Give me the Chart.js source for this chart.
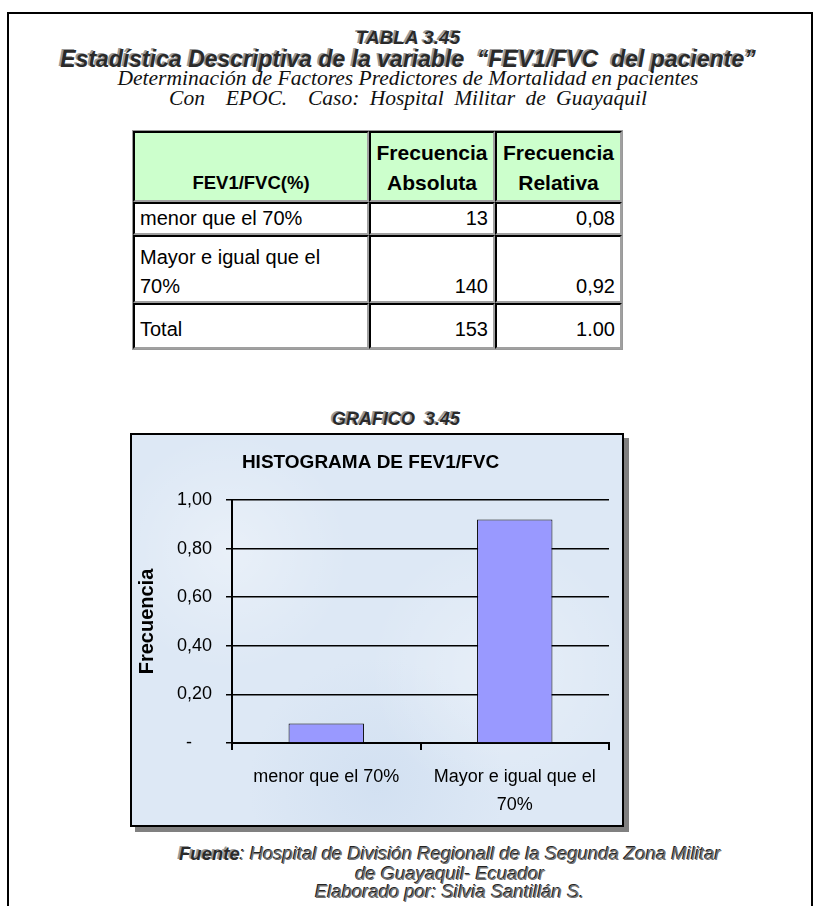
<!DOCTYPE html>
<html>
<head>
<meta charset="utf-8">
<script src="https://cdn.jsdelivr.net/npm/chart.js@4.4.0/dist/chart.umd.min.js"></script>
<style>
  body { margin: 0; width: 816px; height: 906px; overflow: hidden; background: #fff; font-family: Arial, "Liberation Sans", sans-serif; position: relative; }
  .frame { position: absolute; left: 7px; top: 12px; width: 806px; height: 1000px; border: 2px solid #000; box-sizing: border-box; }
  .hd { position: absolute; left: 0; width: 816px; text-align: center; white-space: nowrap; }
  .shadow { font-weight: bold; font-style: italic; color: #2a2a2a; text-shadow: -2px -1px 0 #9a9a9a; }
  .serif { font-family: "Liberation Serif", "Times New Roman", serif; font-style: italic; color: #111; }
  table { position: absolute; left: 132px; top: 130px; border-collapse: separate; border-spacing: 0; border: 1px solid #999; font-size: 20px; table-layout: fixed; width: 491px; }
  td { border-top: 2px solid #000; border-left: 2px solid #000; border-bottom: 2px solid #a0a0a0; border-right: 2px solid #a0a0a0; padding: 0 5px; vertical-align: bottom; line-height: 29px; box-sizing: border-box; overflow: hidden; white-space: nowrap; }
  tr.head td { background: #ccffcc; font-weight: bold; text-align: center; height: 71px; font-size: 21px; line-height: 30px; padding: 0 1px 2px; }
  tr.head td.c1 { font-size: 18.5px; }
  td.num { text-align: right; }
  .box { position: absolute; left: 130px; top: 433px; width: 494px; height: 394px; border: 2px solid #000; box-sizing: border-box; box-shadow: 5px 5px 0 #808080;
    background-color: #dde8f5;
    background-image: radial-gradient(circle at 20% 30%, rgba(255,255,255,0.35), rgba(255,255,255,0) 25%),
      radial-gradient(circle at 75% 60%, rgba(255,255,255,0.3), rgba(255,255,255,0) 30%),
      radial-gradient(circle at 50% 90%, rgba(190,210,235,0.35), rgba(190,210,235,0) 30%); }
  .foot { font-size: 18.5px; }
  .foot .lt { font-weight: normal; color: #707070; text-shadow: -1px -1px 0 #222; }
</style>
</head>
<body>
<div class="frame"></div>
<div class="hd shadow" style="top:27px;font-size:19px;">TABLA 3.45</div>
<div class="hd shadow" style="top:46px;font-size:23px;">Estadística Descriptiva de la variable &nbsp;“FEV1/FVC &nbsp;del paciente”</div>
<div class="hd serif" style="top:66px;font-size:21.5px;">Determinación de Factores Predictores de Mortalidad en pacientes</div>
<div class="hd serif" style="top:86px;font-size:21.5px;word-spacing:5px;">Con &nbsp;EPOC. &nbsp;Caso: Hospital Militar de Guayaquil</div>

<table id="tbl"></table>

<div class="hd shadow" style="top:409px;left:-12px;font-size:18px;">GRAFICO &nbsp;3.45</div>
<div class="box"><canvas id="chart" width="490" height="390"></canvas></div>

<div class="hd shadow foot" style="top:843px;left:42px;"><span>Fuente</span><span class="lt">: Hospital de División Regionall de la Segunda Zona Militar</span></div>
<div class="hd shadow foot" style="top:863px;left:42px;"><span class="lt">de Guayaquil- Ecuador</span></div>
<div class="hd shadow foot" style="top:881px;left:42px;"><span class="lt">Elaborado por: Silvia Santillán S.</span></div>

<script>
// datos de la tabla 3.45
const categorias = ['menor que el 70%', 'Mayor e igual que el 70%'];
const etiquetasX = ['menor que el 70%', ['Mayor e igual que el', '70%']];
const frecAbsoluta = [13, 140];
const frecRelativa = [0.08, 0.92];
const frecRelativaTxt = ['0,08', '0,92'];
const totalAbs = 153;
const totalRel = '1.00';

// tabla
const tbl = document.getElementById('tbl');
let html = '<colgroup><col style="width:236px"><col style="width:126px"><col style="width:127px"></colgroup>';
html += '<tr class="head"><td class="c1">FEV1/FVC(%)</td><td>Frecuencia<br>Absoluta</td><td>Frecuencia<br>Relativa</td></tr>';
categorias.forEach((c, i) => {
  const h = i === 1 ? 68 : 32;
  const lbl = i === 1 ? 'Mayor e igual que el<br>70%' : c;
  html += `<tr><td style="height:${h}px">${lbl}</td><td class="num">${frecAbsoluta[i]}</td><td class="num">${frecRelativaTxt[i]}</td></tr>`;
});
html += `<tr><td style="height:46px;padding-bottom:3px">Total</td><td class="num" style="padding-bottom:3px">${totalAbs}</td><td class="num" style="padding-bottom:3px">${totalRel}</td></tr>`;
tbl.innerHTML = html;

// grafico
const ctx = document.getElementById('chart').getContext('2d');
new Chart(ctx, {
  type: 'bar',
  data: {
    labels: etiquetasX,
    datasets: [{
      data: frecRelativa,
      backgroundColor: '#9999ff',
      borderColor: '#000',
      borderWidth: 1,
      barPercentage: 0.4,
      categoryPercentage: 1
    }]
  },
  options: {
    responsive: false,
    devicePixelRatio: 1,
    animation: false,
    layout: { padding: { left: 0, right: 13, top: 0, bottom: 6 } },
    plugins: {
      legend: { display: false },
      tooltip: { enabled: false },
      title: {
        display: true,
        text: 'HISTOGRAMA DE FEV1/FVC',
        color: '#000',
        font: { family: 'Arial', size: 19, weight: 'bold' },
        padding: { top: 16.6, bottom: 25.6 }
      }
    },
    scales: {
      x: {
        grid: { drawOnChartArea: false, drawTicks: true, tickLength: 7, color: '#000', lineWidth: 2, offset: true },
        border: { display: true, color: '#000', width: 2 },
        ticks: { color: '#000', font: { family: 'Arial', size: 18, lineHeight: 1.55 }, padding: 13, maxRotation: 0 },
        afterFit: s => { s.height = 76; }
      },
      y: {
        min: 0,
        max: 1,
        ticks: {
          stepSize: 0.2,
          color: '#000',
          padding: 14,
          font: { family: 'Arial', size: 18 },
          callback: v => v === 0 ? '-    ' : v.toFixed(2).replace('.', ',')
        },
        grid: { color: '#000', lineWidth: 1.5, tickLength: 6 },
        border: { display: true, color: '#000', width: 2 },
        title: {
          display: true,
          text: 'Frecuencia',
          color: '#000',
          font: { family: 'Arial', size: 20, weight: 'bold' },
          padding: { top: 3, bottom: 0 }
        },
        afterFit: s => { s.width = 100; }
      }
    }
  }
});
</script>
</body>
</html>
